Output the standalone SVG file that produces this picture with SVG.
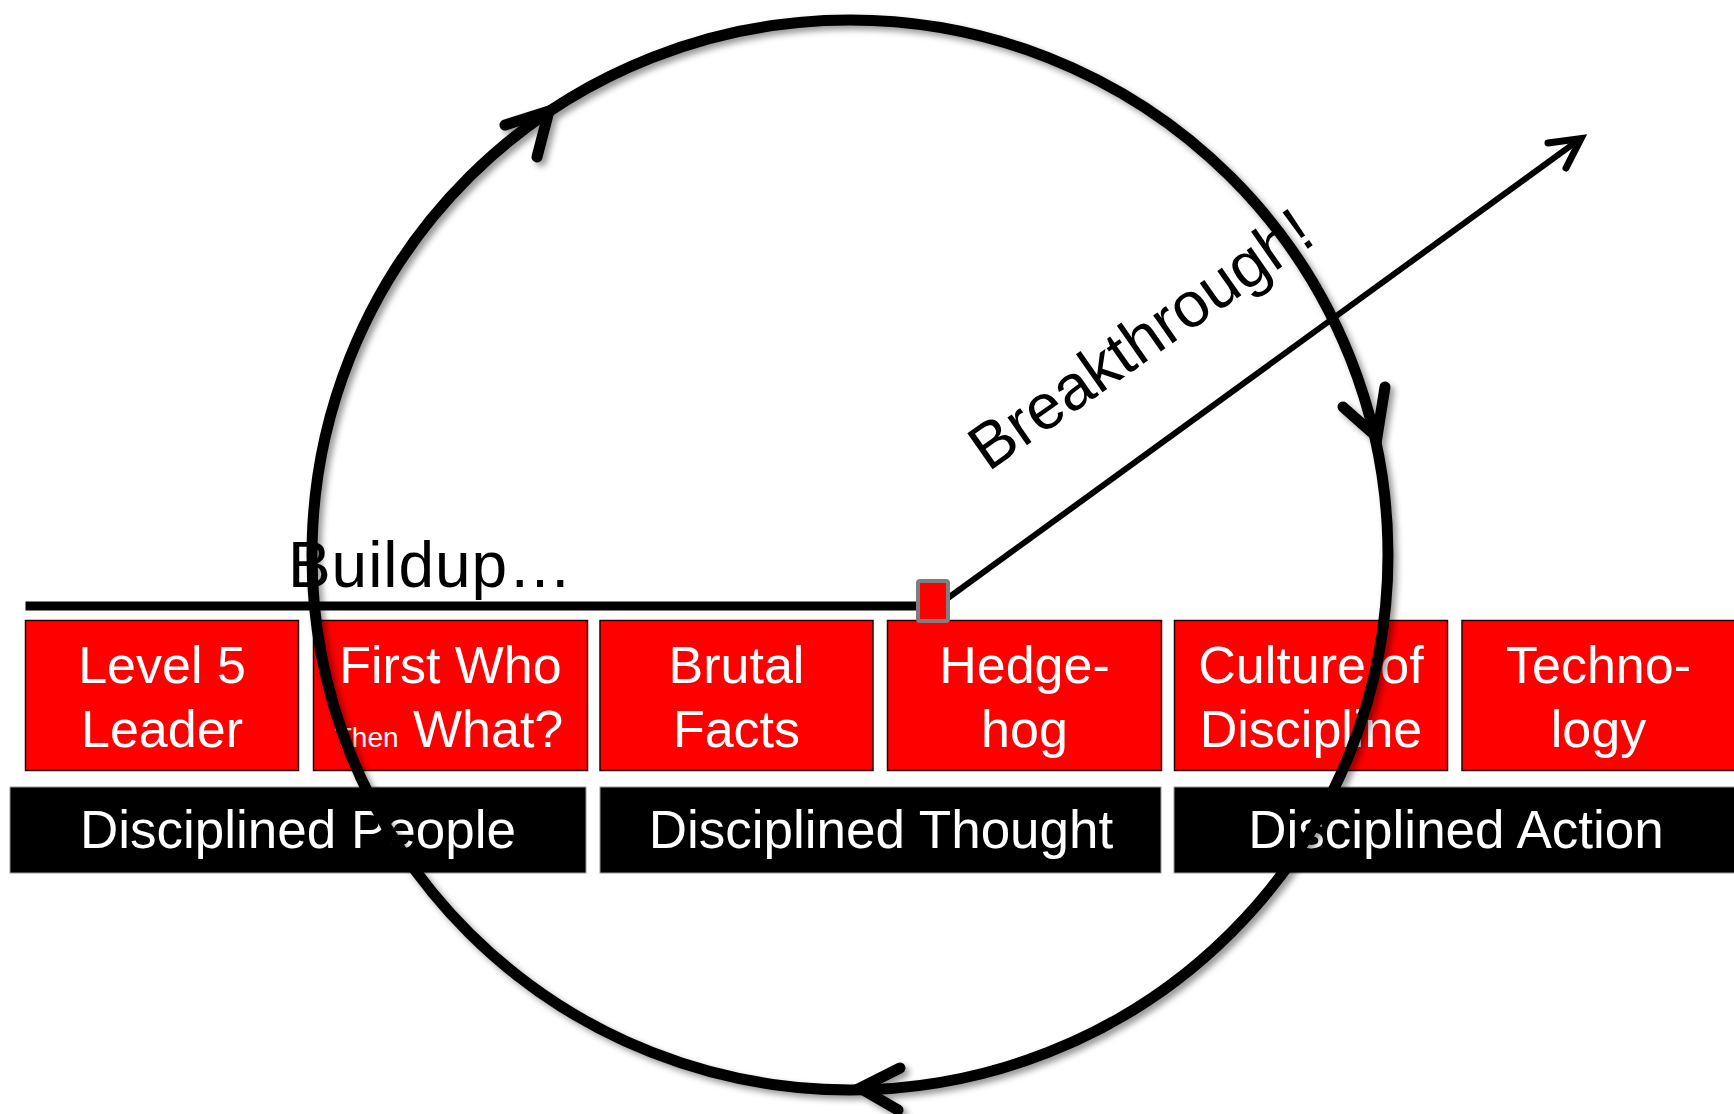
<svg xmlns="http://www.w3.org/2000/svg" width="1734" height="1114" viewBox="0 0 1734 1114">
  <style>
    .red { fill: #ff0000; stroke: #2a0000; stroke-width: 1.5; }
    .band { fill: #000000; stroke: #9a9a9a; stroke-width: 1; }
    .wt { fill: #ffffff; font-family: "Liberation Sans", Arial, sans-serif; font-size: 52px; text-anchor: middle; }
    .bt { fill: #ffffff; font-family: "Liberation Sans", Arial, sans-serif; font-size: 53px; text-anchor: middle; }
    .lbl { fill: #000000; font-family: "Liberation Sans", Arial, sans-serif; font-size: 64px; }
    .cyc { fill: none; stroke: #000000; stroke-width: 11; stroke-linecap: round; stroke-linejoin: miter; }
  </style>
  <defs>
    <filter id="soft" x="-10%" y="-10%" width="120%" height="120%">
      <feDropShadow dx="4" dy="4" stdDeviation="3" flood-color="#000000" flood-opacity="0.4"/>
    </filter>
  </defs>
  <rect width="1734" height="1114" fill="#ffffff"/>

  <!-- top row: the six practices -->
  <g id="level5">
    <rect class="red" x="25.5" y="620.5" width="273" height="150"/>
    <text class="wt" x="162" y="683">Level 5</text>
    <text class="wt" x="162" y="747">Leader</text>
  </g>
  <g id="firstwho">
    <rect class="red" x="313.5" y="620.5" width="274" height="150"/>
    <text class="wt" x="450.5" y="683">First Who</text>
    <text class="wt" x="449" y="747"><tspan font-size="28">Then</tspan> What?</text>
  </g>
  <g id="brutalfacts">
    <rect class="red" x="600" y="620.5" width="273" height="150"/>
    <text class="wt" x="736.5" y="683">Brutal</text>
    <text class="wt" x="736.5" y="747">Facts</text>
  </g>
  <g id="hedgehog">
    <rect class="red" x="887.5" y="620.5" width="274" height="150"/>
    <text class="wt" x="1024.5" y="683">Hedge-</text>
    <text class="wt" x="1024.5" y="747">hog</text>
  </g>
  <g id="culture">
    <rect class="red" x="1174.5" y="620.5" width="273" height="150"/>
    <text class="wt" x="1311" y="683">Culture of</text>
    <text class="wt" x="1311" y="747">Discipline</text>
  </g>
  <g id="technology">
    <rect class="red" x="1462" y="620.5" width="273" height="150"/>
    <text class="wt" x="1598.5" y="683">Techno-</text>
    <text class="wt" x="1598.5" y="747">logy</text>
  </g>

  <!-- bottom row: the three stages -->
  <g id="people">
    <rect class="band" x="10" y="787" width="576" height="86"/>
    <text class="bt" x="298" y="848">Disciplined People</text>
  </g>
  <g id="thought">
    <rect class="band" x="600" y="787" width="561" height="86"/>
    <text class="bt" x="881" y="848">Disciplined Thought</text>
  </g>
  <g id="action">
    <rect class="band" x="1174" y="787" width="564" height="86"/>
    <text class="bt" x="1456" y="848">Disciplined Action</text>
  </g>

  <!-- buildup line, pivot and breakthrough arrow -->
  <g id="connectors">
    <line x1="25.5" y1="606" x2="918" y2="606" stroke="#000" stroke-width="9"/>
    <line x1="948" y1="598" x2="1580" y2="139" stroke="#000" stroke-width="6"/>
    <polyline points="1548,143 1581,138.5 1566,168" fill="none" stroke="#000" stroke-width="7" stroke-linecap="round" stroke-linejoin="miter"/>
  </g>
  <g id="pivot">
    <rect x="918" y="581" width="30" height="40" rx="2" fill="#ff0000" stroke="#7f7f7f" stroke-width="4"/>
  </g>

  <g id="buildup">
    <text class="lbl" x="288" y="587" textLength="284" lengthAdjust="spacing">Buildup…</text>
  </g>
  <g id="breakthrough">
    <text class="lbl" x="1153" y="357" text-anchor="middle" transform="rotate(-35 1153 357)">Breakthrough!</text>
  </g>

  <!-- flywheel cycle, clockwise -->
  <g id="flywheel" filter="url(#soft)">
    <ellipse class="cyc" cx="850" cy="555" rx="538" ry="535"/>
    <polyline class="cyc" points="505,125 549,111 537,157"/>
    <polyline class="cyc" points="1343,407 1377,437 1385,387"/>
    <polyline class="cyc" points="900,1068 860,1088 898,1110"/>
  </g>
</svg>
